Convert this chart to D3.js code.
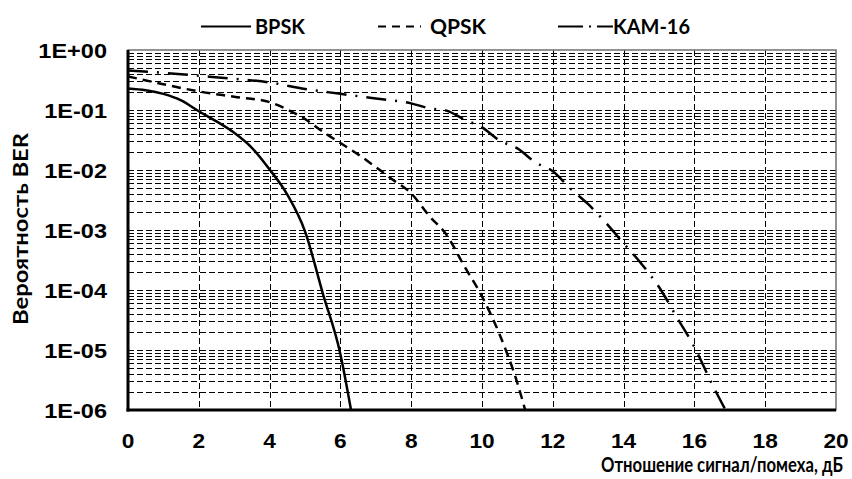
<!DOCTYPE html>
<html>
<head>
<meta charset="utf-8">
<script src="https://cdn.jsdelivr.net/npm/d3@7"></script>
<style>
  html, body { margin: 0; padding: 0; background: #fff; }
  svg { display: block; }
</style>
</head>
<body>
<svg id="chart" width="852" height="479"></svg>
<script>
// ---------- data ----------
const seriesNames = ["BPSK", "QPSK", "KAM-16"];

const bpskX = [0, 0.5, 1, 1.5, 2, 2.5, 3, 3.5, 4, 4.5, 5, 5.5, 6, 6.3];
const bpskY = [0.229, 0.214, 0.186, 0.145, 0.0955, 0.0646, 0.0417, 0.0234, 0.0102, 0.00389, 0.00095, 0.000089, 0.0000085, 0.000001];

const qpskX = [0, 1, 2, 3, 4, 4.5, 5, 5.5, 6, 6.5, 7, 7.5, 8, 8.5, 9, 9.5, 10, 10.5, 11, 11.22];
const qpskY = [0.363, 0.269, 0.204, 0.166, 0.135, 0.102, 0.0708, 0.0437, 0.0282, 0.0182, 0.0112, 0.00676, 0.00407, 0.00174, 0.00083, 0.00025, 0.000078, 0.000018, 0.0000028, 0.000001];

const kamX = [0, 1, 2, 3, 4, 5, 6, 7, 8, 8.5, 9, 9.5, 10, 10.5, 11, 11.5, 12, 12.5, 13, 13.5, 14, 14.5, 15, 15.5, 16, 16.5, 16.88];
const kamY = [0.457, 0.417, 0.372, 0.331, 0.288, 0.224, 0.186, 0.155, 0.129, 0.107, 0.0977, 0.0692, 0.0513, 0.0309, 0.0229, 0.0135, 0.00955, 0.0049, 0.00269, 0.00132, 0.0006, 0.000275, 0.000112, 0.0000355, 0.0000112, 0.0000027, 0.000001];

const xTickValues = [0, 2, 4, 6, 8, 10, 12, 14, 16, 18, 20];
const yTickValues = [1, 1e-1, 1e-2, 1e-3, 1e-4, 1e-5, 1e-6];
const yTickLabels = ["1E+00", "1E-01", "1E-02", "1E-03", "1E-04", "1E-05", "1E-06"];

const xTitle = "Отношение сигнал/помеха, дБ";
const yTitle = "Вероятность BER";

// ---------- layout ----------
const L = 128, R = 836, T = 50, B = 410;
const svg = d3.select("#chart");

const x = d3.scaleLinear().domain([0, 20]).range([L, R]);
const y = d3.scaleLog().domain([1e-6, 1]).range([B, T]);

// grid: horizontal minor + decade lines
const hGrid = [];
for (let e = -6; e < 0; e++) {
  for (let m = 1; m <= 9; m++) {
    const v = m * Math.pow(10, e);
    if (v > 1e-6) hGrid.push(v);
  }
}
svg.append("g").selectAll("line").data(hGrid).join("line")
  .attr("x1", L).attr("x2", R)
  .attr("y1", d => Math.round(y(d)) + 0.5).attr("y2", d => Math.round(y(d)) + 0.5)
  .attr("stroke", "#000").attr("stroke-width", 1)
  .attr("stroke-dasharray", "6,3");

svg.append("g").selectAll("line").data(xTickValues.filter(v => v > 0 && v < 20)).join("line")
  .attr("x1", d => Math.round(x(d)) + 0.5).attr("x2", d => Math.round(x(d)) + 0.5)
  .attr("y1", T).attr("y2", B)
  .attr("stroke", "#000").attr("stroke-width", 1)
  .attr("stroke-dasharray", "6,3");

// plot border (top/right gray)
svg.append("rect").attr("x", L).attr("y", T).attr("width", R - L).attr("height", B - T)
  .attr("fill", "none").attr("stroke", "#707070").attr("stroke-width", 1.5);

// axes lines
svg.append("line").attr("x1", L).attr("x2", L).attr("y1", T).attr("y2", B + 1.5)
  .attr("stroke", "#000").attr("stroke-width", 3);
svg.append("line").attr("x1", L - 1.5).attr("x2", R).attr("y1", B).attr("y2", B)
  .attr("stroke", "#000").attr("stroke-width", 3);

// curves
svg.append("clipPath").attr("id", "clip").append("rect")
  .attr("x", L).attr("y", T).attr("width", R - L).attr("height", B - T);

const line = d3.line().x(d => x(d[0])).y(d => y(d[1])).curve(d3.curveMonotoneX);
const series = [
  { name: seriesNames[0], xs: bpskX, ys: bpskY, dash: null },
  { name: seriesNames[1], xs: qpskX, ys: qpskY, dash: "9,6" },
  { name: seriesNames[2], xs: kamX, ys: kamY, dash: "20,9,2,9" }
];
const gCurves = svg.append("g").attr("clip-path", "url(#clip)");
series.forEach(s => {
  gCurves.append("path")
    .datum(s.xs.map((v, i) => [v, s.ys[i]]))
    .attr("d", line)
    .attr("fill", "none")
    .attr("stroke", "#000")
    .attr("stroke-width", 2.5)
    .attr("stroke-dasharray", s.dash);
});

// tick labels
const tickFont = "'Liberation Sans', Arial, sans-serif";
svg.append("g").selectAll("text").data(yTickValues).join("text")
  .attr("transform", d => `translate(107,${y(d) + 7.5}) scale(1.12,1)`)
  .attr("text-anchor", "end")
  .attr("font-family", tickFont).attr("font-weight", "bold").attr("font-size", 21)
  .text((d, i) => yTickLabels[i]);

svg.append("g").selectAll("text").data(xTickValues).join("text")
  .attr("transform", d => `translate(${x(d)},448) scale(1.08,1)`)
  .attr("text-anchor", "middle")
  .attr("font-family", tickFont).attr("font-weight", "bold").attr("font-size", 21)
  .text(d => d);

// axis titles
const titleFont = "Lato, 'Open Sans', sans-serif";
const xt = svg.append("text")
  .attr("text-anchor", "end")
  .attr("font-family", titleFont).attr("font-weight", "bold").attr("font-size", 21)
  .text(xTitle);
const xtW = xt.node().getComputedTextLength() || 242;
xt.attr("transform", `translate(843,472) scale(${242 / xtW},1)`);

svg.append("text")
  .attr("transform", "translate(28,229) rotate(-90)")
  .attr("text-anchor", "middle")
  .attr("font-family", titleFont).attr("font-weight", "bold").attr("font-size", 20)
  .attr("textLength", 192).attr("lengthAdjust", "spacingAndGlyphs")
  .text(yTitle);

// legend
const legendItems = [
  { name: seriesNames[0], x1: 201, x2: 251, tx: 255, tw: 50, dash: null },
  { name: seriesNames[1], x1: 378, x2: 421, tx: 430, tw: 56, dash: "8,6" },
  { name: seriesNames[2], x1: 558, x2: 613, tx: 613, tw: 77, dash: "25,6,2,6" }
];
const gLeg = svg.append("g");
legendItems.forEach(it => {
  gLeg.append("line").attr("x1", it.x1).attr("x2", it.x2).attr("y1", 26.5).attr("y2", 26.5)
    .attr("stroke", "#000").attr("stroke-width", 2).attr("stroke-dasharray", it.dash);
  gLeg.append("text").attr("x", it.tx).attr("y", 33.5)
    .attr("font-family", titleFont).attr("font-weight", "bold").attr("font-size", 20)
    .attr("textLength", it.tw).attr("lengthAdjust", "spacingAndGlyphs")
    .text(it.name);
});
</script>
</body>
</html>
